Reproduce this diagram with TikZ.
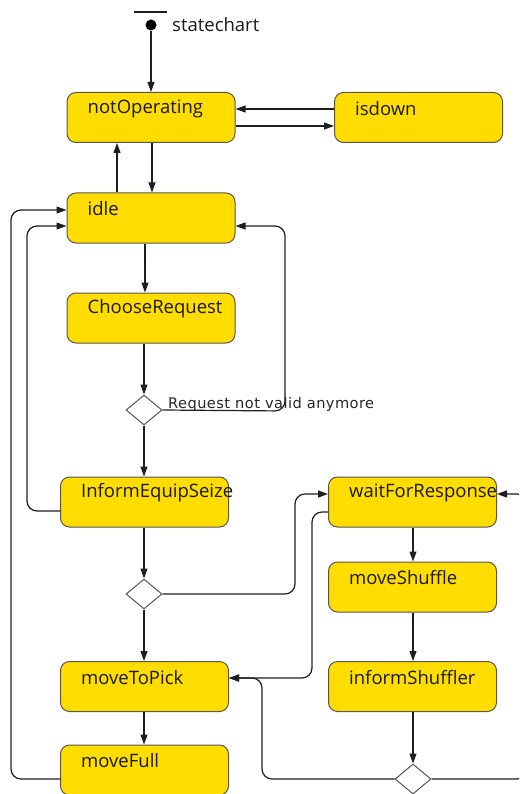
\documentclass[tikz,border=0pt]{standalone}
\usepackage{fontspec}
\setmainfont{Open Sans}
\newfontfamily\guardfont[LetterSpace=3]{DejaVu Sans}
\usetikzlibrary{arrows.meta,shapes.geometric,calc}
\definecolor{stfill}{RGB}{255,221,0}
\definecolor{stdraw}{RGB}{85,85,85}
\definecolor{ln}{RGB}{30,30,30}
\tikzset{
  stbox/.style={draw=stdraw, fill=stfill, rounded corners=9pt, line width=1pt,
    minimum width=168pt, minimum height=50pt, inner sep=0pt},
  sttext/.style={anchor=west, inner sep=0pt, font=\fontsize{18.5}{22}\selectfont, text=black!90},
  choice/.style={diamond, draw=stdraw, fill=white, line width=1pt, inner sep=0pt,
    minimum width=36pt, minimum height=30pt},
  arr/.style={draw=ln, line width=1.2pt, -{Triangle[length=10pt,width=7pt]}},
  route/.style={arr, rounded corners=10pt},
}
\begin{document}
\begin{tikzpicture}[x=1pt, y=-1pt]
\useasboundingbox (0,0) rectangle (519,794);
\clip (0,0) rectangle (519,794);

% initial pseudo-state
\draw[line width=2.5pt, draw=ln] (134,12) -- (167,12);
\node[circle, fill=black, inner sep=0pt, minimum size=11pt] (init) at (151,25) {};
\node[sttext] (initlbl) at (172,25) {statechart};

% states
\newcommand{\mkstate}[4]{%
  \node[stbox] (#1) at (#2,#3) {};
  \node[sttext] (#1-t) at ($(#1.north west)+(21,16.5)$) {#4};}
\mkstate{nO}{151}{117.5}{notOperating}
\mkstate{isd}{418.5}{117.5}{isdown}
\mkstate{idle}{151}{218}{idle}
\mkstate{cr}{151}{318}{ChooseRequest}
\mkstate{ies}{144.5}{502}{InformEquipSeize}
\mkstate{wfr}{412.5}{502}{waitForResponse}
\mkstate{ms}{412.5}{587}{moveShuffle}
\mkstate{is}{412.5}{686.5}{informShuffler}
\mkstate{mtp}{144.5}{686.5}{moveToPick}
\mkstate{mf}{144.5}{770}{moveFull}

% branches
\node[choice] (d1) at (144,410) {};
\node[choice] (d2) at (144,594) {};
\node[choice] (d3) at (413,779) {};

% transitions
\draw[arr] (init) -- (init |- nO.north);
\draw[arr] ([yshift=8.5pt]isd.west) -- ([yshift=8.5pt]nO.east);
\draw[arr] ([yshift=-8.5pt]nO.east) -- ([yshift=-8.5pt]isd.west);
\draw[arr] ([xshift=1pt]nO.south) -- ([xshift=1pt]idle.north);
\draw[arr] ([xshift=-34pt]idle.north) -- ([xshift=-34pt]nO.south);
\draw[arr] ([xshift=-6pt]idle.south) -- ([xshift=-6pt]cr.north);
\draw[arr] ([xshift=-7pt]cr.south) -- (d1.north);
\draw[route] (d1.east) -- (285,411) -- (285,226) -- ([yshift=-8pt]idle.east);
\node[anchor=west, inner sep=0pt, font=\guardfont\fontsize{14.6}{17}\selectfont, text=black!85] (guard) at (168,404) {Request not valid anymore};
\draw[arr] (d1.south) -- (ies.north -| d1.south);
\draw[route] ([yshift=-9pt]ies.west) -- (27,511) -- (27,226) -- ([yshift=-8pt]idle.west);
\draw[arr] (ies.south -| d2.north) -- (d2.north);
\draw[route] (d2.east) -- (295,594) -- (295,494) -- ([yshift=8pt]wfr.west);
\draw[route] ([yshift=-10pt]wfr.west) -- (312,512) -- (312,678) -- ([yshift=8.5pt]mtp.east);
\draw[arr] (wfr.south -| d3.north) -- (ms.north -| d3.north);
\draw[arr] (ms.south -| d3.north) -- (is.north -| d3.north);
\draw[arr] (is.south -| d3.north) -- (d3.north);
\draw[route] (d3.west) -- (262,779) -- (262,678) -- ([yshift=8.5pt]mtp.east);
\draw[route] (d3.east) -- (527,779) -- (527,494) -- ([yshift=8pt]wfr.east);
\draw[arr] (d2.south) -- (mtp.north -| d2.south);
\draw[arr] (mtp.south -| d2.south) -- (mf.north -| d2.south);
\draw[route] ([yshift=-9pt]mf.west) -- (11,779) -- (11,210) -- ([yshift=8pt]idle.west);
\end{tikzpicture}
\end{document}
